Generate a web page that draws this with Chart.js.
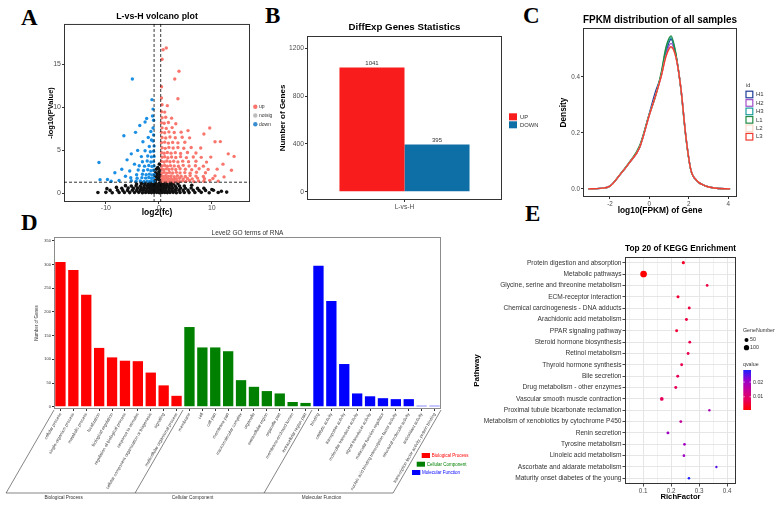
<!DOCTYPE html>
<html>
<head>
<meta charset="utf-8">
<script src="https://cdn.jsdelivr.net/npm/chart.js@4.4.1/dist/chart.umd.min.js"></script>
<style>
html, body { margin: 0; padding: 0; background: #fff; }
body { width: 780px; height: 506px; position: relative; overflow: hidden; }
canvas { position: absolute; }
.letter { position: absolute; font-family: "Liberation Serif", "DejaVu Serif", serif; font-weight: bold; font-size: 23px; line-height: 1; color: #000; }
</style>
</head>
<body>
<div class="letter" style="left:21px;top:6px">A</div>
<div class="letter" style="left:265px;top:4px">B</div>
<div class="letter" style="left:523px;top:4px">C</div>
<div class="letter" style="left:21px;top:211px">D</div>
<div class="letter" style="left:525px;top:202px">E</div>

<canvas id="cA" width="300" height="218" style="left:0px;top:0px"></canvas>
<canvas id="cB" width="290" height="216" style="left:255px;top:0px"></canvas>
<canvas id="cC" width="255" height="216" style="left:525px;top:0px"></canvas>
<canvas id="cD" width="480" height="284" style="left:0px;top:222px"></canvas>
<canvas id="cE" width="310" height="268" style="left:470px;top:238px"></canvas>

<script>
// ---------- A: volcano ----------
const volcanoUp = [
  [0.5,1.4],[0.9,1.45],[1.3,1.38],[1.7,1.42],[2.1,1.4],[2.5,1.47],[2.9,1.36],[3.4,1.44],[3.9,1.39],[4.5,1.46],[5.1,1.4],[5.8,1.5],[6.6,1.37],[7.5,1.45],[8.5,1.41],[9.6,1.52],[11.2,1.43],
  [0.6,1.72],[1.0,1.66],[1.4,1.75],[1.8,1.68],[2.3,1.74],[2.8,1.65],[3.3,1.71],[3.9,1.77],[4.6,1.67],[5.4,1.73],[6.3,1.69],[7.3,1.78],[8.6,1.7],[10.2,1.74],
  [0.5,2.02],[0.9,1.96],[1.3,2.05],[1.8,1.98],[2.3,2.04],[2.9,1.95],[3.5,2.06],[4.2,2.0],[5.0,1.97],[5.9,2.07],[7.0,2.01],[8.4,1.96],[10.6,2.04],[12.3,1.92],
  [0.6,2.38],[1.0,2.44],[1.5,2.36],[2.0,2.43],[2.6,2.37],[3.3,2.45],[4.0,2.39],[4.9,2.42],[5.9,2.35],[7.1,2.46],[8.8,2.4],
  [0.5,2.83],[0.9,2.76],[1.4,2.85],[1.9,2.78],[2.5,2.84],[3.2,2.77],[4.0,2.86],[5.0,2.8],[6.2,2.75],[7.6,2.87],[9.3,2.79],[11.0,2.82],
  [0.6,3.18],[1.1,3.25],[1.6,3.16],[2.2,3.23],[2.9,3.2],[3.7,3.15],[4.6,3.26],[5.7,3.19],[6.9,3.22],[8.4,3.17],[12.1,3.4],
  [0.5,3.72],[1.0,3.65],[1.5,3.76],[2.1,3.68],[2.8,3.74],[3.6,3.66],[4.5,3.75],[5.6,3.69],[7.0,3.73],[9.0,3.64],
  [0.6,4.2],[1.1,4.26],[1.7,4.15],[2.4,4.23],[3.2,4.18],[4.1,4.27],[5.2,4.16],[6.5,4.24],[8.0,4.19],[9.8,4.22],[13.1,4.6],
  [0.5,4.72],[1.0,4.66],[1.6,4.76],[2.3,4.68],[3.1,4.74],[4.1,4.65],[5.4,4.75],[7.0,4.7],[14.2,4.3],
  [0.6,5.3],[1.2,5.24],[1.9,5.35],[2.7,5.27],[3.6,5.33],[4.7,5.25],[6.1,5.34],[7.9,5.28],
  [0.5,5.9],[1.1,5.96],[1.8,5.85],[2.6,5.93],[3.6,5.88],[4.9,5.95],[10.6,6.0],[11.6,6.02],
  [0.6,6.5],[1.3,6.44],[2.1,6.55],[3.1,6.47],[4.4,6.52],[5.8,6.46],
  [0.5,7.1],[1.1,7.05],[1.9,7.15],[2.9,7.08],[4.2,7.12],[8.5,6.9],
  [0.6,7.62],[1.4,7.56],[2.5,7.65],[5.5,7.3],[9.6,7.6],
  [0.5,8.2],[1.0,8.15],[1.8,8.25],[3.2,8.1],[0.6,8.8],[1.3,8.85],[2.4,8.75],
  [0.5,9.5],[1.1,9.45],[0.6,10.3],[1.6,10.2],[0.5,11.1],[3.6,11.0],[0.5,12.4],[3.0,13.3],[3.8,14.2],[0.6,15.6],[0.8,16.7],[1.4,16.9],[13.7,2.7]
];
const volcanoDown = [
  [-0.9,1.4],[-1.3,1.45],[-1.7,1.38],[-2.2,1.43],[-2.8,1.39],[-3.5,1.46],[-4.3,1.41],[-5.2,1.48],[-7.5,1.5],[-9.0,1.42],[-11.1,1.6],[-9.7,1.62],
  [-1.0,1.8],[-1.4,1.76],[-1.9,1.84],[-2.5,1.78],[-3.2,1.83],[-4.1,1.77],[-5.3,1.82],
  [-0.9,2.2],[-1.3,2.15],[-1.8,2.24],[-2.4,2.17],[-3.1,2.23],[-4.2,2.16],[-6.3,2.0],[-8.3,2.4],
  [-1.0,2.7],[-1.5,2.64],[-2.1,2.75],[-2.9,2.66],[-3.9,2.72],[-5.5,2.6],[-7.0,2.8],
  [-0.9,3.2],[-1.3,3.14],[-1.9,3.25],[-2.7,3.17],[-3.7,3.22],[-4.6,3.4],
  [-1.0,3.7],[-1.5,3.65],[-2.2,3.76],[-3.1,3.68],[-6.0,3.9],[-11.3,3.6],
  [-0.9,4.3],[-1.4,4.25],[-2.1,4.35],[-3.3,4.28],[-5.2,4.6],
  [-1.0,4.9],[-1.6,4.84],[-2.6,4.95],[-4.0,5.0],
  [-0.9,5.5],[-1.8,5.45],[-3.0,6.0],[-1.1,6.1],[-2.0,6.5],[-1.4,6.2],
  [-1.0,6.8],[-1.5,7.2],[-6.6,6.7],[-1.1,7.6],[-4.4,7.1],[-3.6,7.9],
  [-1.0,8.5],[-2.6,8.3],[-2.3,8.7],[-1.2,9.0],[-1.1,9.8],[-1.3,10.9],[-5.0,13.3]
];
const volcanoNotSig = [
  [-11.5,0.1],[-10,0.12],[-8.8,0.08],[-7.5,0.1],[-6.5,0.11],[-5.5,0.09],[-4.6,0.1],[-3.8,0.12],[-3.1,0.08],[-2.5,0.1],[-1.9,0.11],[-1.4,0.09],[-0.9,0.1],[-0.4,0.12],[0.1,0.08],[0.6,0.1],[1.1,0.11],[1.6,0.09],[2.1,0.1],[2.7,0.12],[3.3,0.08],[4.0,0.1],[4.8,0.11],[5.7,0.09],[6.8,0.1],[8.0,0.12],[9.5,0.08],[11.2,0.1],[12.8,0.15],
  [-9.2,0.35],[-7.8,0.37],[-6.8,0.33],[-5.9,0.35],[-5.0,0.36],[-4.2,0.34],[-3.5,0.35],[-2.9,0.37],[-2.3,0.33],[-1.7,0.35],[-1.2,0.36],[-0.7,0.34],[-0.2,0.35],[0.3,0.37],[0.8,0.33],[1.3,0.35],[1.9,0.36],[2.5,0.34],[3.1,0.35],[3.8,0.37],[4.6,0.33],[5.5,0.35],[6.5,0.36],[7.6,0.34],[8.8,0.35],[10.3,0.37],
  [-7.0,0.6],[-5.8,0.62],[-4.8,0.58],[-4.0,0.6],[-3.3,0.61],[-2.7,0.59],[-2.1,0.6],[-1.6,0.62],[-1.1,0.58],[-0.6,0.6],[-0.1,0.61],[0.4,0.59],[0.9,0.6],[1.4,0.62],[2.0,0.58],[2.6,0.6],[3.3,0.61],[4.1,0.59],[5.0,0.6],[6.1,0.62],[7.3,0.58],
  [-5.2,0.85],[-4.3,0.87],[-3.5,0.83],[-2.8,0.85],[-2.2,0.86],[-1.7,0.84],[-1.2,0.85],[-0.7,0.87],[-0.2,0.83],[0.3,0.85],[0.8,0.86],[1.3,0.84],[1.8,0.85],[2.4,0.87],[3.1,0.83],[3.9,0.85],[4.8,0.86],
  [-4.2,1.1],[-3.3,1.12],[-2.6,1.08],[-2.0,1.1],[-1.5,1.11],[-1.0,1.09],[-0.5,1.1],[0.0,1.12],[0.5,1.08],[1.0,1.1],[1.5,1.11],[2.1,1.09],[2.8,1.1],[3.6,1.12],
  [-2.9,1.25],[-1.8,1.26],[-0.8,1.24],[0.2,1.25],[1.2,1.26],[2.3,1.24],
  [-0.6,1.5],[-0.2,1.7],[0.1,1.6],[-0.5,1.9],[0.2,2.0],[-0.3,2.2],[0.0,2.5],[-0.6,2.4],[0.2,2.8],[-0.2,3.0],[0.1,3.4],[-0.5,2.8],[0.0,1.9],[-0.7,2.1],[0.25,2.3],
  [-9.8,0.55],[-8.0,0.7],[-6.3,0.9],[8.5,0.6],[10.0,0.45],[6.2,0.95],[11.8,0.25]
];
const volcanoCutX = [-0.9, 0.35];
const volcanoCutY = 1.3;
const volcanoXTicks = [-10, 0, 10];
const volcanoYTicks = [0, 5, 10, 15];

// ---------- B: DEG counts ----------
const degGroups = ['L-vs-H'];
const degUp = [1041];
const degDown = [395];
const degYTicks = [0, 400, 800, 1200];

// ---------- C: FPKM density ----------
const fpkmX  = [-3.1, -2.5, -2, -1.5, -1, -0.5, 0, 0.3, 0.6, 0.85, 1.1, 1.35, 1.6, 1.85, 2.1, 2.4, 2.8, 3.3, 4.1];
const fpkmH1 = [0, 0.002, 0.01, 0.05, 0.095, 0.147, 0.27, 0.345, 0.405, 0.49, 0.535, 0.475, 0.36, 0.19, 0.07, 0.03, 0.012, 0.003, 0];
const fpkmH2 = [0, 0.002, 0.01, 0.05, 0.095, 0.147, 0.264, 0.33, 0.402, 0.482, 0.52, 0.472, 0.36, 0.19, 0.07, 0.03, 0.012, 0.003, 0];
const fpkmH3 = [0, 0.002, 0.01, 0.05, 0.095, 0.149, 0.266, 0.33, 0.41, 0.5, 0.54, 0.478, 0.358, 0.188, 0.07, 0.03, 0.012, 0.003, 0];
const fpkmL1 = [0, 0.002, 0.01, 0.051, 0.097, 0.154, 0.268, 0.328, 0.415, 0.508, 0.547, 0.482, 0.356, 0.186, 0.069, 0.03, 0.012, 0.003, 0];
const fpkmL2 = [0, 0.002, 0.01, 0.05, 0.095, 0.147, 0.264, 0.33, 0.402, 0.474, 0.503, 0.469, 0.36, 0.19, 0.07, 0.03, 0.012, 0.003, 0];
const fpkmL3 = [0, 0.002, 0.01, 0.05, 0.095, 0.147, 0.264, 0.33, 0.402, 0.475, 0.508, 0.47, 0.36, 0.19, 0.07, 0.03, 0.012, 0.003, 0];
const fpkmSamples = ['H1', 'H2', 'H3', 'L1', 'L2', 'L3'];
const fpkmColors = ['#1F3D99', '#A24FCB', '#1E9EA0', '#238B45', '#FAD9C8', '#F03A2E'];
const fpkmXTicks = [-2, 0, 2, 4];
const fpkmYTicks = [0, 0.2, 0.4];

// ---------- D: GO level2 ----------
const goBPTerms = ['cellular process', 'single-organism process', 'metabolic process', 'localization', 'biological regulation', 'regulation of biological process', 'response to stimulus', 'cellular component organization or biogenesis', 'signaling', 'multicellular organismal process'];
const goBPCounts = [305, 288, 236, 124, 104, 97, 96, 72, 45, 23];
const goCCTerms = ['membrane', 'cell', 'cell part', 'membrane part', 'macromolecular complex', 'organelle', 'extracellular region', 'organelle part', 'membrane-enclosed lumen', 'extracellular region part'];
const goCCCounts = [168, 125, 125, 117, 56, 42, 33, 28, 10, 8];
const goMFTerms = ['binding', 'catalytic activity', 'transporter activity', 'molecular transducer activity', 'signal transducer activity', 'molecular function regulator', 'nucleic acid binding transcription factor activity', 'structural molecule activity', 'antioxidant activity', 'transcription factor activity, protein binding'];
const goMFCounts = [297, 223, 90, 28, 22, 18, 16, 16, 2, 2];
const goGroups = ['Biological Process', 'Cellular Component', 'Molecular Function'];
const goColors = ['#FF0000', '#008000', '#0000FF'];
const goYTicks = [0, 50, 100, 150, 200, 250, 300, 350];

// ---------- E: KEGG enrichment ----------
const keggTerms = ['Protein digestion and absorption', 'Metabolic pathways', 'Glycine, serine and threonine metabolism', 'ECM-receptor interaction', 'Chemical carcinogenesis - DNA adducts', 'Arachidonic acid metabolism', 'PPAR signaling pathway', 'Steroid hormone biosynthesis', 'Retinol metabolism', 'Thyroid hormone synthesis', 'Bile secretion', 'Drug metabolism - other enzymes', 'Vascular smooth muscle contraction', 'Proximal tubule bicarbonate reclamation', 'Metabolism of xenobiotics by cytochrome P450', 'Renin secretion', 'Tyrosine metabolism', 'Linoleic acid metabolism', 'Ascorbate and aldarate metabolism', 'Maturity onset diabetes of the young'];
const keggRich  = [0.244, 0.102, 0.329, 0.225, 0.265, 0.255, 0.220, 0.267, 0.261, 0.238, 0.224, 0.217, 0.167, 0.337, 0.235, 0.189, 0.248, 0.246, 0.362, 0.264];
const keggGenes = [25, 170, 15, 22, 20, 20, 20, 18, 18, 20, 20, 20, 40, 8, 18, 18, 14, 14, 6, 10];
const keggQ     = [0.004, 0.001, 0.006, 0.005, 0.006, 0.006, 0.005, 0.007, 0.007, 0.007, 0.008, 0.008, 0.008, 0.018, 0.015, 0.02, 0.02, 0.02, 0.025, 0.0282];
const keggXTicks = [0.1, 0.2, 0.3, 0.4];
const keggXMinor = [0.05, 0.15, 0.25, 0.35];
const geneLegend = [50, 100];
const qLegendTicks = [0.01, 0.02];

// ---------- helpers ----------
Chart.defaults.font.family = '"Liberation Sans", Arial, sans-serif';
Chart.defaults.color = '#4D4D4D';
Chart.defaults.animation = false;
Chart.defaults.responsive = false;
Chart.defaults.plugins.legend.display = false;
Chart.defaults.plugins.tooltip.enabled = false;

const framePlugin = {
  id: 'frame',
  afterDatasetsDraw(chart, args, opts) {
    const { ctx, chartArea: a } = chart;
    ctx.save();
    ctx.strokeStyle = opts.color || '#333';
    ctx.lineWidth = opts.width || 1;
    ctx.strokeRect(a.left + 0.5, a.top + 0.5, a.right - a.left - 1, a.bottom - a.top - 1);
    ctx.restore();
  }
};
Chart.register(framePlugin);

function setTicks(values) {
  return s => { s.ticks = values.map(v => ({ value: v })); };
}
function text(ctx, s, x, y, size, color, align, weight) {
  ctx.font = (weight || 'normal') + ' ' + size + 'px "Liberation Sans", Arial, sans-serif';
  ctx.fillStyle = color;
  ctx.textAlign = align || 'left';
  ctx.textBaseline = 'middle';
  ctx.fillText(s, x, y);
}
function axisTitle(t, size, pad) {
  return { display: true, text: t, color: '#000', font: { size: size, weight: 'bold', lineHeight: 1.2 }, padding: pad };
}
function chartTitle(t, size, bottom, weight) {
  return { display: true, text: t, fullSize: false, color: weight === 'normal' ? '#333' : '#000', font: { size: size, weight: weight || 'bold', lineHeight: 1.2 }, padding: { top: 0, bottom: bottom } };
}
const tickGrid = { drawOnChartArea: false, tickLength: 2, color: '#333' };

// ---------- A ----------
new Chart(document.getElementById('cA'), {
  type: 'scatter',
  data: {
    datasets: [
      { label: 'up', data: volcanoUp.map(p => ({ x: p[0], y: p[1] })), backgroundColor: '#F8766D', pointRadius: 1.7, borderWidth: 0 },
      { label: 'down', data: volcanoDown.map(p => ({ x: p[0], y: p[1] })), backgroundColor: '#1A8FE3', pointRadius: 1.7, borderWidth: 0 },
      { label: 'notsig', data: volcanoNotSig.map(p => ({ x: p[0], y: p[1] })), backgroundColor: '#111', pointRadius: 1.8, borderWidth: 0 }
    ]
  },
  options: {
    layout: { padding: { left: 45, top: 11.4, right: 50, bottom: 0 } },
    plugins: {
      title: chartTitle('L-vs-H volcano plot', 8.8, 2),
      frame: { color: '#333', width: 1 }
    },
    scales: {
      x: {
        type: 'linear', min: -17.9, max: 17.2,
        afterBuildTicks: setTicks(volcanoXTicks),
        afterFit: s => { s.height = 16; },
        grid: tickGrid, border: { display: false },
        ticks: { font: { size: 7 }, padding: 0 },
        title: axisTitle('log2(fc)', 8.5, { top: 0, bottom: 0.4 })
      },
      y: {
        min: -1, max: 19.7,
        afterBuildTicks: setTicks(volcanoYTicks),
        afterFit: s => { s.width = 19; },
        grid: tickGrid, border: { display: false },
        ticks: { font: { size: 7 }, padding: 1 },
        title: axisTitle('-log10(PValue)', 7.5, { top: 1.5, bottom: 0 })
      }
    }
  },
  plugins: [{
    id: 'volcanoExtras',
    afterDatasetsDraw(chart) {
      const { ctx, chartArea: a, scales: { x, y } } = chart;
      ctx.save();
      ctx.strokeStyle = '#000';
      ctx.lineWidth = 0.8;
      ctx.setLineDash([3, 2]);
      ctx.beginPath();
      volcanoCutX.forEach(v => {
        const px = x.getPixelForValue(v);
        ctx.moveTo(px, a.top); ctx.lineTo(px, a.bottom);
      });
      const py = y.getPixelForValue(volcanoCutY);
      ctx.moveTo(a.left, py); ctx.lineTo(a.right, py);
      ctx.stroke();
      ctx.setLineDash([]);
      const items = [['up', '#F8766D'], ['notsig', '#BDBDBD'], ['down', '#3A8FD0']];
      items.forEach((it, i) => {
        const cy = 106.7 + i * 8.8;
        ctx.fillStyle = it[1];
        ctx.beginPath(); ctx.arc(255.3, cy, 2.2, 0, Math.PI * 2); ctx.fill();
        text(ctx, it[0], 259, cy, 5, '#333');
      });
      ctx.restore();
    }
  }]
});

// ---------- B ----------
new Chart(document.getElementById('cB'), {
  type: 'bar',
  data: {
    labels: degGroups,
    datasets: [
      { label: 'UP', data: degUp, backgroundColor: '#F81C1C' },
      { label: 'DOWN', data: degDown, backgroundColor: '#0E6EA6' }
    ]
  },
  options: {
    layout: { padding: { left: 20, top: 21.7, right: 43, bottom: 0 } },
    datasets: { bar: { categoryPercentage: 0.667, barPercentage: 1 } },
    plugins: {
      title: chartTitle('DiffExp Genes Statistics', 9.7, 2.66),
      frame: { color: '#333', width: 1 }
    },
    scales: {
      x: {
        afterFit: s => { s.height = 16; },
        grid: Object.assign({ offset: false }, tickGrid), border: { display: false },
        ticks: { font: { size: 6.7 }, padding: 1 }
      },
      y: {
        min: -70, max: 1306,
        afterBuildTicks: setTicks(degYTicks),
        afterFit: s => { s.width = 32; },
        grid: tickGrid, border: { display: false },
        ticks: { font: { size: 6.7 }, padding: 1, callback: v => String(v) },
        title: axisTitle('Number of Genes', 8, { top: 3.2, bottom: 0 })
      }
    }
  },
  plugins: [{
    id: 'degExtras',
    afterDatasetsDraw(chart) {
      const { ctx } = chart;
      ctx.save();
      chart.data.datasets.forEach((ds, i) => {
        chart.getDatasetMeta(i).data.forEach((bar, j) => {
          text(ctx, String(ds.data[j]), bar.x, bar.y - 4, 6, '#333', 'center');
        });
        ctx.fillStyle = ds.backgroundColor;
        ctx.fillRect(254, 113.3 + i * 8, 8, 7);
        text(ctx, ds.label, 265, 117 + i * 8.3, 5.8, '#333');
      });
      ctx.restore();
    }
  }]
});

// ---------- C ----------
const fpkmSeries = [fpkmH1, fpkmH2, fpkmH3, fpkmL1, fpkmL2, fpkmL3];
new Chart(document.getElementById('cC'), {
  type: 'scatter',
  data: {
    datasets: fpkmSeries.map((s, i) => ({
      label: fpkmSamples[i],
      data: s.map((v, k) => ({ x: fpkmX[k], y: v })),
      showLine: true, pointRadius: 0, borderWidth: 1.4,
      borderColor: fpkmColors[i], cubicInterpolationMode: 'monotone',
      order: fpkmSeries.length - 1 - i   // later samples drawn on top, like ggplot
    }))
  },
  options: {
    layout: { padding: { left: 33, top: 13.9, right: 43, bottom: 0 } },
    plugins: {
      title: chartTitle('FPKM distribution of all samples', 10.2, 1.86),
      frame: { color: '#333', width: 1 }
    },
    scales: {
      x: {
        type: 'linear', min: -3.37, max: 4.45,
        afterBuildTicks: setTicks(fpkmXTicks),
        afterFit: s => { s.height = 19; },
        grid: tickGrid, border: { display: false },
        ticks: { font: { size: 6.3 }, padding: 1 },
        title: axisTitle('log10(FPKM) of Gene', 8.4, { top: 0, bottom: 0.7 })
      },
      y: {
        min: -0.029, max: 0.575,
        afterBuildTicks: setTicks(fpkmYTicks),
        afterFit: s => { s.width = 25; },
        grid: tickGrid, border: { display: false },
        ticks: { font: { size: 6.3 }, padding: 1, callback: v => v.toFixed(1) },
        title: axisTitle('Density', 8.3, { top: 1, bottom: 0 })
      }
    }
  },
  plugins: [{
    id: 'fpkmLegend',
    afterDraw(chart) {
      const { ctx } = chart;
      ctx.save();
      text(ctx, 'id', 221, 85, 5.5, '#333');
      fpkmSamples.forEach((s, i) => {
        const cy = 94.5 + i * 8.45;
        ctx.strokeStyle = fpkmColors[i];
        ctx.lineWidth = 1.2;
        ctx.strokeRect(221, cy - 3.3, 6.8, 6.6);
        text(ctx, s, 231, cy, 6, '#333');
      });
      ctx.restore();
    }
  }]
});

// ---------- D ----------
const goTerms = goBPTerms.concat(goCCTerms, goMFTerms);
const goCounts = goBPCounts.concat(goCCCounts, goMFCounts);
const goBarColors = goTerms.map((t, i) => goColors[i < goBPTerms.length ? 0 : (i < goBPTerms.length + goCCTerms.length ? 1 : 2)]);
new Chart(document.getElementById('cD'), {
  type: 'bar',
  data: {
    labels: goTerms,
    datasets: [{ label: 'GO', data: goCounts, backgroundColor: goBarColors, categoryPercentage: 1, barPercentage: 0.8 }]
  },
  options: {
    layout: { padding: { left: 33, top: 7.1, right: 39, bottom: 0 } },
    plugins: {
      title: chartTitle('Level2 GO terms of RNA', 6.5, 0.1, 'normal'),
      frame: { color: '#8C8C8C', width: 1 }
    },
    scales: {
      x: {
        afterFit: s => { s.height = 97; },
        grid: Object.assign({ offset: false }, tickGrid), border: { display: false },
        ticks: { font: { size: 4.3 }, padding: 1, autoSkip: false, minRotation: 60, maxRotation: 60, color: '#333' }
      },
      y: {
        min: -4.8, max: 357.8,
        afterBuildTicks: setTicks(goYTicks),
        afterFit: s => { s.width = 21; },
        grid: tickGrid, border: { display: false },
        ticks: { font: { size: 4 }, padding: 1, color: '#333' },
        title: { display: true, text: 'Number of Genes', color: '#333', font: { size: 4.5, lineHeight: 1.2 }, padding: { top: 1, bottom: 0 } }
      }
    }
  },
  plugins: [{
    id: 'goGroups',
    afterDraw(chart) {
      const { ctx, chartArea: a } = chart;
      const n = goTerms.length;
      const step = (a.right - a.left) / n;
      const top = a.bottom + 1, base = 271;
      const dx = (base - top) / Math.tan(Math.PI / 3);
      const bounds = [0, goBPTerms.length, goBPTerms.length + goCCTerms.length, n].map(i => a.left + i * step);
      ctx.save();
      ctx.strokeStyle = '#333';
      ctx.lineWidth = 0.6;
      ctx.beginPath();
      bounds.forEach(b => { ctx.moveTo(b, top); ctx.lineTo(b - dx, base); });
      ctx.moveTo(bounds[0] - dx, base); ctx.lineTo(bounds[3] - dx, base);
      ctx.stroke();
      goGroups.forEach((g, i) => {
        const cx = (bounds[i] + bounds[i + 1]) / 2 - dx - 7;
        text(ctx, g, cx, 275.7, 4.7, '#333', 'center');
      });
      const lg = [[421.7, 231], [416.7, 239.7], [412, 248]];
      goGroups.forEach((g, i) => {
        ctx.fillStyle = goColors[i];
        ctx.fillRect(lg[i][0], lg[i][1], 8.3, 5);
        text(ctx, g, lg[i][0] + 10, lg[i][1] + 2.6, 4.5, goColors[i]);
      });
      ctx.restore();
    }
  }]
});

// ---------- E ----------
const qMin = Math.min(...keggQ), qMax = Math.max(...keggQ);
const qStops = [[0, [255, 0, 0]], [0.25, [232, 0, 88]], [0.5, [198, 0, 150]], [0.75, [150, 0, 205]], [1, [30, 30, 255]]];
function qColor(q) {
  const t = Math.min(1, Math.max(0, (q - qMin) / (qMax - qMin)));
  for (let i = 1; i < qStops.length; i++) {
    if (t <= qStops[i][0]) {
      const [t0, c0] = qStops[i - 1], [t1, c1] = qStops[i];
      const f = (t - t0) / (t1 - t0);
      return 'rgb(' + c0.map((c, k) => Math.round(c + (c1[k] - c) * f)).join(',') + ')';
    }
  }
  return 'rgb(30,30,255)';
}
const geneRadius = n => Math.sqrt(4 + 0.24 * n) / 2;
const isMajor = v => keggXTicks.some(m => Math.abs(m - v) < 1e-6);

new Chart(document.getElementById('cE'), {
  type: 'bubble',
  data: {
    datasets: [{
      label: 'KEGG',
      data: keggTerms.map((t, i) => ({ x: keggRich[i], y: t, r: geneRadius(keggGenes[i]) })),
      backgroundColor: keggQ.map(qColor),
      borderWidth: 0
    }]
  },
  options: {
    layout: { padding: { left: 1, top: 4.36, right: 44, bottom: 0 } },
    plugins: {
      title: chartTitle('Top 20 of KEGG Enrichment', 9.4, 3.36),
      frame: { color: '#333', width: 1 }
    },
    scales: {
      x: {
        type: 'linear', min: 0.0357, max: 0.432,
        afterBuildTicks: setTicks(keggXMinor.concat(keggXTicks).sort((p, q) => p - q)),
        afterFit: s => { s.height = 22; },
        grid: {
          color: '#E3E3E3', tickLength: 2.5,
          lineWidth: c => (c.tick && isMajor(c.tick.value)) ? 0.9 : 0.45,
          tickColor: c => (c.tick && isMajor(c.tick.value)) ? '#333' : 'rgba(0,0,0,0)'
        },
        border: { display: false },
        ticks: { font: { size: 6.3 }, padding: 1, callback: v => isMajor(v) ? v.toFixed(1) : '' },
        title: axisTitle('RichFactor', 7.7, { top: 0, bottom: 4.7 })
      },
      y: {
        type: 'category', labels: keggTerms, offset: true,
        afterFit: s => { s.width = 154; },
        grid: { color: '#E3E3E3', lineWidth: 0.9, tickLength: 2.5, tickColor: '#333' },
        border: { display: false },
        ticks: { font: { size: 6.6 }, padding: 1, color: '#333', autoSkip: false },
        title: axisTitle('Pathway', 8, { top: 1.2, bottom: 0 })
      }
    }
  },
  plugins: [{
    id: 'keggLegend',
    afterDraw(chart) {
      const { ctx } = chart;
      ctx.save();
      text(ctx, 'GeneNumber', 273, 93, 5.3, '#333');
      geneLegend.forEach((g, i) => {
        const cy = 102 + i * 7.7;
        ctx.fillStyle = '#000';
        ctx.beginPath(); ctx.arc(276.5, cy, geneRadius(g), 0, Math.PI * 2); ctx.fill();
        text(ctx, String(g), 280, cy, 5.3, '#333');
      });
      text(ctx, 'qvalue', 273, 127, 5.3, '#333');
      const bx = 273.3, by = 132, bw = 7.7, bh = 40;
      const grad = ctx.createLinearGradient(0, by + bh, 0, by);
      qStops.forEach(s => grad.addColorStop(s[0], 'rgb(' + s[1].join(',') + ')'));
      ctx.fillStyle = grad;
      ctx.fillRect(bx, by, bw, bh);
      ctx.strokeStyle = '#fff';
      ctx.lineWidth = 0.6;
      qLegendTicks.forEach(q => {
        const yy = by + bh - (q - qMin) / (qMax - qMin) * bh;
        ctx.beginPath();
        ctx.moveTo(bx, yy); ctx.lineTo(bx + 1.5, yy);
        ctx.moveTo(bx + bw - 1.5, yy); ctx.lineTo(bx + bw, yy);
        ctx.stroke();
        text(ctx, q.toFixed(2), 283, yy, 5.3, '#333');
      });
      ctx.restore();
    }
  }]
});
</script>
</body>
</html>
